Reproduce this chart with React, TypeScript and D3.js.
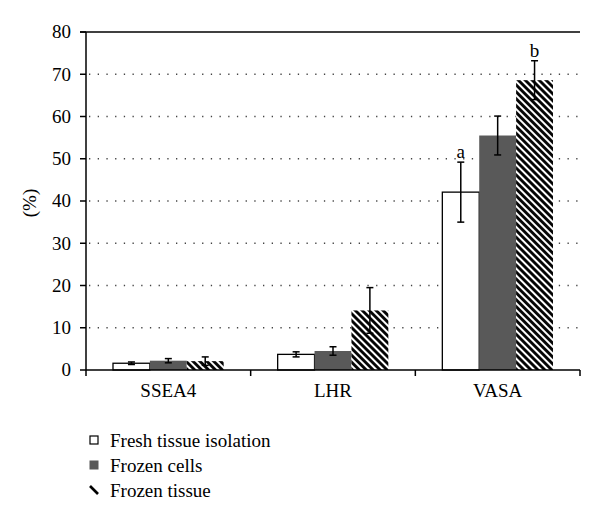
import React from "react";
import * as d3 from "d3";

const categories = ["SSEA4", "LHR", "VASA"];
const seriesNames = ["Fresh tissue isolation", "Frozen cells", "Frozen tissue"];
const freshValues = [1.6, 3.7, 42.1];
const freshErrors = [0.3, 0.6, 7.1];
const cellsValues = [2.2, 4.5, 55.5];
const cellsErrors = [0.5, 1.0, 4.6];
const tissueValues = [2.1, 14.1, 68.6];
const tissueErrors = [1.0, 5.4, 4.6];
const yTicks = [0, 10, 20, 30, 40, 50, 60, 70, 80];
const annotations = [
  { category: "VASA", series: 0, label: "a" },
  { category: "VASA", series: 2, label: "b" },
];

const FONT = "'Liberation Serif', 'DejaVu Serif', serif";

export default function App() {
  const W = 600, H = 524;
  const left = 86, right = 580, top = 32, bottom = 370;
  const x0 = d3.scaleBand<string>().domain(categories).range([left, right]).paddingInner(0).paddingOuter(0);
  const x1 = d3.scaleBand<number>().domain([0, 1, 2]).range([27, x0.bandwidth() - 27]).padding(0);
  const y = d3.scaleLinear().domain([0, 80]).range([bottom, top]);

  const series = [
    { values: freshValues, errors: freshErrors },
    { values: cellsValues, errors: cellsErrors },
    { values: tissueValues, errors: tissueErrors },
  ];
  const fills = ["#ffffff", "#595959", "url(#hatch)"];
  const P = 4.9;

  return (
    <svg width={W} height={H} style={{ position: "absolute", left: 0, top: 0, background: "#fff" }} fontFamily={FONT}>
      <defs>
        <pattern id="hatch" patternUnits="userSpaceOnUse" width={P} height={P} patternTransform="rotate(-45)">
          <rect width={P} height={P} fill="#fff" />
          <line x1={P * 0.3} y1={0} x2={P * 0.3} y2={P} stroke="#000" strokeWidth={P * 0.58} />
        </pattern>
      </defs>
      {/* gridlines */}
      {yTicks.filter((t) => t > 0 && t < 80).map((t) => (
        <line key={t} x1={left + 3} x2={right} y1={y(t)} y2={y(t)} stroke="#444" strokeWidth={1.3} strokeDasharray="1.3 7.4" />
      ))}
      {/* top border */}
      <line x1={left - 6} x2={right} y1={y(80)} y2={y(80)} stroke="#000" strokeWidth={1.5} />
      {/* bars */}
      {categories.map((c, ci) => (
        <g key={c} transform={`translate(${x0(c)},0)`}>
          {series.map((s, si) => {
            const bx = x1(si)!;
            const bw = x1.bandwidth();
            const v = s.values[ci];
            const e = s.errors[ci];
            const cx = bx + bw / 2;
            return (
              <g key={si}>
                <rect x={bx} y={y(v)} width={bw} height={bottom - y(v)} fill={fills[si]}
                  stroke={si === 0 ? "#000" : "none"} strokeWidth={1.3} />
                <line x1={cx} x2={cx} y1={y(v + e)} y2={y(v - e)} stroke="#000" strokeWidth={1.5} />
                <line x1={cx - 3.5} x2={cx + 3.5} y1={y(v + e)} y2={y(v + e)} stroke="#000" strokeWidth={1.5} />
                <line x1={cx - 3.5} x2={cx + 3.5} y1={y(v - e)} y2={y(v - e)} stroke="#000" strokeWidth={1.5} />
              </g>
            );
          })}
        </g>
      ))}
      {/* annotations */}
      {annotations.map((a) => {
        const ci = categories.indexOf(a.category);
        const s = series[a.series];
        const cx = x0(a.category)! + x1(a.series)! + x1.bandwidth() / 2;
        return (
          <text key={a.label} x={cx} y={y(s.values[ci] + s.errors[ci]) - 4} textAnchor="middle" fontSize={19} fill="#000">
            {a.label}
          </text>
        );
      })}
      {/* y axis */}
      <line x1={left} x2={left} y1={top} y2={bottom + 6} stroke="#000" strokeWidth={1.5} />
      {yTicks.map((t) => (
        <g key={t}>
          <line x1={left - 6} x2={left} y1={y(t)} y2={y(t)} stroke="#000" strokeWidth={1.5} />
          <text x={71} y={y(t)} dy="0.34em" textAnchor="end" fontSize={19} fill="#000">{t}</text>
        </g>
      ))}
      <text transform={`translate(36,${(top + bottom) / 2 + 2}) rotate(-90)`} textAnchor="middle" fontSize={19} fill="#000">(%)</text>
      {/* x axis */}
      <line x1={left} x2={right} y1={bottom} y2={bottom} stroke="#000" strokeWidth={1.5} />
      {categories.map((c) => (
        <g key={c}>
          <line x1={x0(c)! + x0.bandwidth()} x2={x0(c)! + x0.bandwidth()} y1={bottom} y2={bottom + 6} stroke="#000" strokeWidth={1.5} />
          <text x={x0(c)! + x0.bandwidth() / 2} y={397} textAnchor="middle" fontSize={19} fill="#000">{c}</text>
        </g>
      ))}
      {/* legend */}
      {seriesNames.map((n, i) => {
        const cy = 440 + i * 25;
        return (
          <g key={n}>
            {i === 0 && <rect x={90} y={cy - 4} width={8} height={8} fill="#fff" stroke="#000" strokeWidth={1.2} />}
            {i === 1 && <rect x={89.5} y={cy - 4.5} width={9} height={9} fill="#595959" />}
            {i === 2 && <line x1={90} y1={cy - 4} x2={98} y2={cy + 4} stroke="#000" strokeWidth={2.6} />}
            <text x={110} y={cy} dy="0.35em" fontSize={19} fill="#000">{n}</text>
          </g>
        );
      })}
    </svg>
  );
}
